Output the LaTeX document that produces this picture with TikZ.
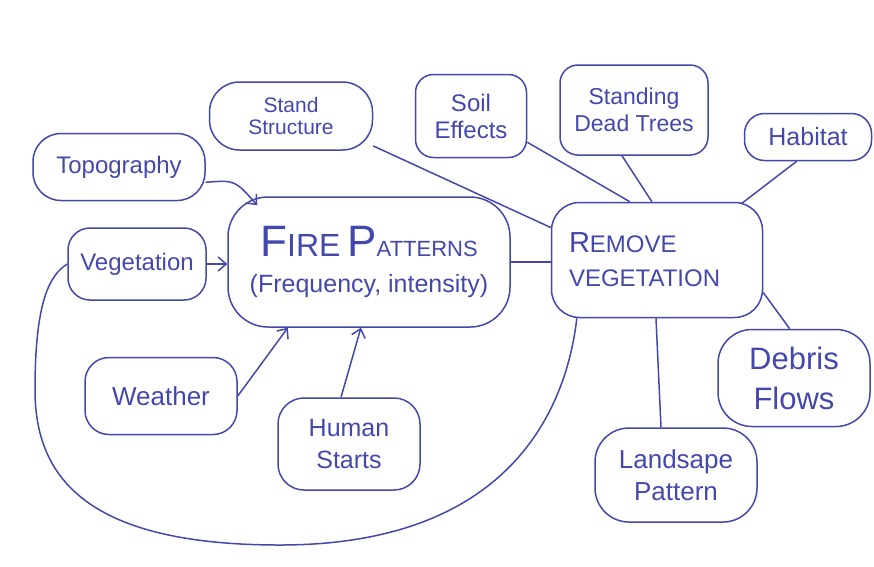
\documentclass[tikz,border=0pt]{standalone}
\usepackage{fontspec}
\setmainfont{Liberation Sans}
\usetikzlibrary{arrows.meta}
\definecolor{ink}{RGB}{68,72,172}
\begin{document}
\begin{tikzpicture}[x=1pt,y=-1pt,
  box/.style={draw=ink, line width=1.5pt, rounded corners=18pt, text=ink, align=center,
    font=\fontsize{24}{28}\selectfont, inner sep=0pt},
  link/.style={draw=ink, line width=1.5pt},
  arr/.style={link, -{Straight Barb[length=8pt,width=14pt]}}]
\useasboundingbox (0,0) rectangle (874,566);
\fill[white] (0,0) rectangle (874,566);

\node[box, minimum width=163, minimum height=68, rounded corners=30pt, font=\fontsize{21}{22}\selectfont] (ss) at (291,116) {Stand\\Structure};
\node[box, minimum width=172, minimum height=67, rounded corners=28pt] (topo) at (119,167) {Topography};
\node[box, minimum width=111, minimum height=83, font=\fontsize{24}{27}\selectfont] (soil) at (471,116) {Soil\\Effects};
\node[box, minimum width=148, minimum height=90, font=\fontsize{23}{27}\selectfont] (sdt) at (634,110) {Standing\\Dead Trees};
\node[box, minimum width=127, minimum height=47, rounded corners=20pt, font=\fontsize{25}{28}\selectfont] (hab) at (808,137) {Habitat};
\node[box, minimum width=282, minimum height=130, rounded corners=40pt, font=\fontsize{25}{36}\selectfont] (fire) at (369,262)
  {{\fontsize{44}{44}\selectfont F}{\fontsize{32}{32}\selectfont IRE} {\fontsize{44}{44}\selectfont P}{\fontsize{22}{22}\selectfont ATTERNS}\\(Frequency, intensity)};
\node[box, minimum width=138, minimum height=72, rounded corners=22pt] (veg) at (137,264) {Vegetation};
\node[box, minimum width=211, minimum height=115, rounded corners=28pt, align=left, text width=176, font=\fontsize{24}{34}\selectfont] (rv) at (657,260)
  {{\fontsize{29}{29}\selectfont R}EMOVE\\VEGETATION};
\node[box, minimum width=152, minimum height=77, rounded corners=24pt, font=\fontsize{26}{28}\selectfont] (wea) at (161,396) {Weather};
\node[box, minimum width=142, minimum height=92, rounded corners=26pt, font=\fontsize{25}{32}\selectfont] (hum) at (349,444) {Human\\Starts};
\node[box, minimum width=152, minimum height=97, rounded corners=34pt, font=\fontsize{31}{40}\selectfont] (deb) at (794,378) {Debris\\Flows};
\node[box, minimum width=162, minimum height=94, rounded corners=34pt, font=\fontsize{26}{32}\selectfont] (land) at (676,475) {Landsape\\Pattern};

% arrows into Fire Patterns
\draw[arr] (topo.-10) .. controls (235,180) .. ([shift={(30,9)}]fire.north west);
\draw[arr] (veg.east) -- (fire.west |- veg.east);
\draw[arr] (wea.east) -- (fire.-141);
\draw[arr] (hum.north) ++(-8,0) -- (fire.-97);

% lines to Remove Vegetation
\draw[link] (ss.-20) -- (rv.163);
\draw[link] (soil.-25) -- (rv.115);
\draw[link] (sdt.south) ++(-12,0) -- (rv.95);
\draw[link] (hab.-115) -- ([shift={(-22,2)}]rv.north east);
\draw[link] (fire.east) -- (rv.west |- fire.east);
\draw[link] (rv.-17) -- (deb.95);
\draw[link] (rv.-91) -- ([xshift=-15pt]land.north);

% feedback loop
\draw[link] (rv.-144) .. controls (565,420) and (500,545) .. (280,545)
  .. controls (90,545) and (35,480) .. (35,390)
  .. controls (35,300) and (50,275) .. (veg.west);
\end{tikzpicture}
\end{document}
